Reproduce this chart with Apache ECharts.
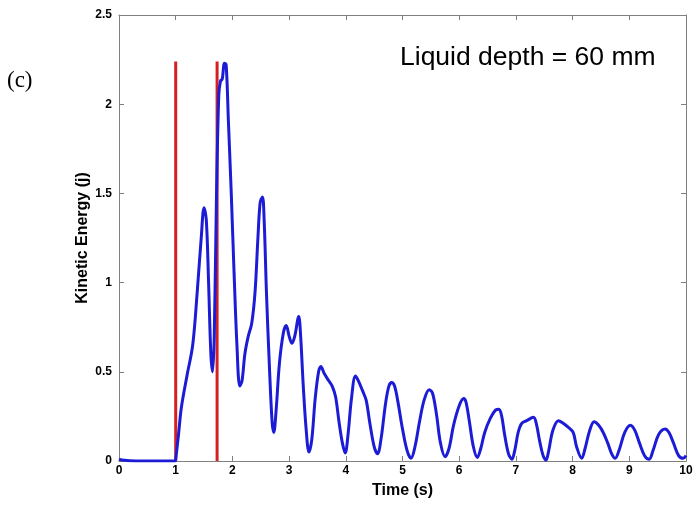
<!DOCTYPE html>
<html><head><meta charset="utf-8">
<script src="https://cdn.jsdelivr.net/npm/echarts@6/dist/echarts.min.js"></script>
<style>html,body{margin:0;padding:0;background:#fff}#c{width:696px;height:508px}</style>
</head><body><div id="c"></div>
<script>
const timeValues = [0,0.05,0.3,0.6,0.99,1.0,1.05,1.1,1.2,1.3,1.38,1.45,1.5,1.54,1.58,1.62,1.65,1.68,1.72,1.76,1.79,1.82,1.86,1.89,1.93,1.98,2.03,2.08,2.13,2.17,2.22,2.28,2.34,2.4,2.45,2.49,2.53,2.56,2.6,2.65,2.7,2.73,2.77,2.83,2.9,2.95,3.0,3.05,3.1,3.17,3.2,3.25,3.3,3.35,3.4,3.46,3.52,3.56,3.62,3.7,3.76,3.82,3.88,3.94,3.99,4.04,4.1,4.17,4.22,4.3,4.36,4.42,4.5,4.56,4.62,4.7,4.76,4.81,4.86,4.92,5.0,5.08,5.15,5.22,5.3,5.38,5.47,5.53,5.6,5.67,5.75,5.82,5.9,6.0,6.08,6.12,6.18,6.25,6.32,6.38,6.45,6.55,6.64,6.7,6.75,6.8,6.87,6.93,6.98,7.04,7.1,7.19,7.31,7.36,7.42,7.48,7.53,7.58,7.65,7.75,7.84,7.92,8.01,8.07,8.16,8.22,8.3,8.38,8.46,8.54,8.62,8.69,8.75,8.82,8.92,9.02,9.1,9.18,9.27,9.35,9.42,9.52,9.63,9.7,9.78,9.87,9.95,10];
const energyValues = [0.01,0.005,0,0,0,0.01,0.15,0.3,0.48,0.65,0.95,1.25,1.42,1.35,1.0,0.6,0.5,0.7,1.5,2.05,2.13,2.14,2.23,2.22,1.9,1.5,1.05,0.65,0.42,0.45,0.6,0.7,0.77,0.95,1.25,1.45,1.48,1.35,0.95,0.55,0.22,0.16,0.28,0.55,0.72,0.76,0.7,0.66,0.7,0.81,0.72,0.42,0.18,0.05,0.12,0.35,0.5,0.53,0.49,0.45,0.42,0.36,0.22,0.1,0.045,0.15,0.35,0.476,0.45,0.39,0.34,0.22,0.08,0.04,0.12,0.32,0.42,0.44,0.42,0.33,0.18,0.06,0.015,0.08,0.22,0.34,0.40,0.38,0.26,0.1,0.024,0.07,0.2,0.31,0.35,0.33,0.22,0.08,0.02,0.07,0.16,0.24,0.285,0.29,0.25,0.15,0.04,0.01,0.06,0.16,0.21,0.226,0.245,0.21,0.11,0.03,0.005,0.06,0.17,0.226,0.21,0.19,0.16,0.08,0.015,0.07,0.17,0.22,0.2,0.16,0.1,0.04,0.015,0.06,0.16,0.2,0.17,0.1,0.03,0.01,0.06,0.15,0.18,0.16,0.1,0.03,0.015,0.03];
const markerTimes = [1.0, 1.73];
const markerHeight = 2.24;
const xTicks = [0,1,2,3,4,5,6,7,8,9,10];
const yTicks = [0,0.5,1,1.5,2,2.5];

const chart = echarts.init(document.getElementById('c'), null, {renderer:'canvas'});
const axisLineStyle = {color:'#808080', width:1};
const lblStyle = {color:'#000', fontFamily:'Liberation Sans, Arial', fontWeight:'bold', fontSize:12};
const series = [];
markerTimes.forEach(t => {
  series.push({type:'line', xAxisIndex:0, yAxisIndex:0, data:[[t,0],[t,markerHeight]], symbol:'none',
    lineStyle:{color:'#d42020', width:3}, silent:true, z:2});
});
series.push({type:'line', xAxisIndex:0, yAxisIndex:0, data: timeValues.map((t,i)=>[t, energyValues[i]]),
  symbol:'none', smooth:0.35, lineStyle:{color:'#1c1cd6', width:3}, z:3});

chart.setOption({
  animation:false,
  backgroundColor:'#fff',
  grid:{left:119, right:10, top:15, bottom:47, containLabel:false},
  xAxis:[
    {type:'value', min:0, max:10, interval:1, position:'bottom',
     axisLine:{show:true, onZero:false, lineStyle:axisLineStyle},
     axisTick:{show:true, inside:true, length:5, lineStyle:axisLineStyle},
     splitLine:{show:false},
     axisLabel:Object.assign({margin:4, formatter:v=>String(v)}, lblStyle),
     name:'Time (s)', nameLocation:'middle', nameGap:22,
     nameTextStyle:{color:'#000', fontFamily:'Liberation Sans, Arial', fontWeight:'bold', fontSize:16}},
    {type:'value', min:0, max:10, interval:1, position:'top',
     axisLine:{show:true, onZero:false, lineStyle:axisLineStyle},
     axisTick:{show:true, inside:true, length:5, lineStyle:axisLineStyle},
     splitLine:{show:false}, axisLabel:{show:false}}
  ],
  yAxis:[
    {type:'value', min:0, max:2.5, interval:0.5, position:'left',
     axisLine:{show:true, onZero:false, lineStyle:axisLineStyle},
     axisTick:{show:true, inside:true, length:5, lineStyle:axisLineStyle},
     splitLine:{show:false},
     axisLabel:Object.assign({margin:7, formatter:v=>String(v)}, lblStyle),
     name:'Kinetic Energy (j)', nameLocation:'middle', nameGap:28, nameRotate:90, nameMoveOverlap:false,
     nameTextStyle:{color:'#000', fontFamily:'Liberation Sans, Arial', fontWeight:'bold', fontSize:16}},
    {type:'value', min:0, max:2.5, interval:0.5, position:'right',
     axisLine:{show:true, onZero:false, lineStyle:axisLineStyle},
     axisTick:{show:true, inside:true, length:5, lineStyle:axisLineStyle},
     splitLine:{show:false}, axisLabel:{show:false}}
  ],
  series: series,
  graphic:[
    {type:'text', left:7, top:69, style:{text:'(c)', fill:'#000', font:'23px "Liberation Serif", "Times New Roman", serif'}},
    {type:'text', left:400, top:44, style:{text:'Liquid depth = 60 mm', fill:'#000', font:'26.5px "Liberation Sans", Arial, sans-serif'}}
  ]
});
</script></body></html>
